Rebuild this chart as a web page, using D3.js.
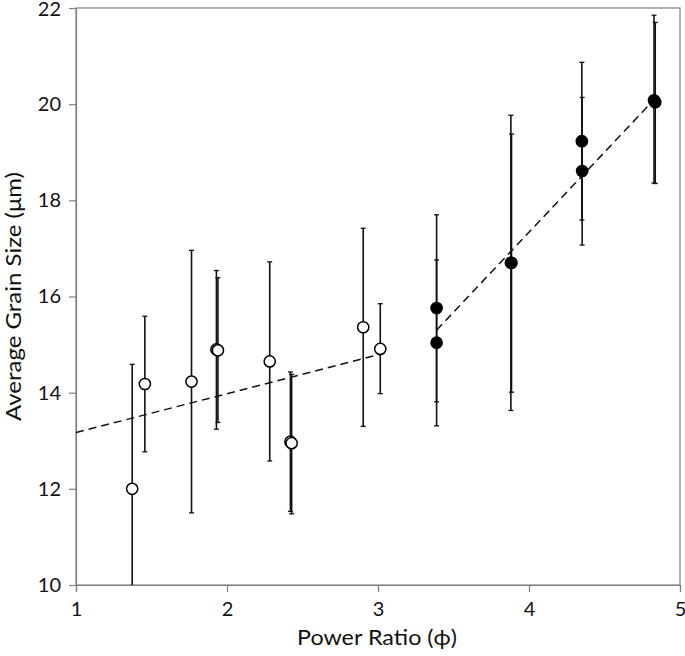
<!DOCTYPE html>
<html>
<head>
<meta charset="utf-8">
<script src="https://cdn.jsdelivr.net/npm/d3@7"></script>
<style>
  body { margin: 0; background: #fff; }
  svg { font-family: Lato, "Open Sans", sans-serif; }
</style>
</head>
<body>
<script>
// open circles (phi < 3.1)
let openPhi  = [1.372, 1.456, 1.765, 1.930, 1.940, 2.283, 2.420, 2.428, 2.902, 3.015];
let openSize = [12.00, 14.18, 14.23, 14.90, 14.88, 14.65, 12.98, 12.95, 15.36, 14.91];
let openLow  = [9.41, 12.77, 11.50, 13.24, 13.38, 12.58, 11.53, 11.48, 13.30, 13.98];
let openHigh = [14.59, 15.59, 16.96, 16.54, 16.39, 16.72, 14.43, 14.38, 17.42, 15.85];

// filled circles (phi > 3.3)
let fillPhi  = [3.388, 3.388, 3.880, 3.884, 4.350, 4.352, 4.828, 4.836];
let fillSize = [15.76, 15.04, 16.70, 16.70, 19.23, 18.61, 20.08, 20.04];
let fillLow  = [13.81, 13.31, 13.63, 14.01, 17.59, 17.07, 18.36, 18.35];
let fillHigh = [17.70, 16.76, 19.77, 19.38, 20.87, 20.14, 21.85, 21.70];

// linear fits, two segments
let fitOpen = [[1.0, 13.17], [3.015, 14.80]];
let fitFill = [[3.388, 15.30], [4.830, 20.10]];

let xTicks = [1, 2, 3, 4, 5];
let yTicks = [10, 12, 14, 16, 18, 20, 22];

let margin = {top: 8, right: 5, bottom: 71, left: 76},
    width = 685 - margin.left - margin.right,
    height = 656 - margin.top - margin.bottom;

let x = d3.scaleLinear().domain([1, 5]).range([0, width]);
let y = d3.scaleLinear().domain([10, 22]).range([height, 0]);

let svg = d3.select("body").append("svg")
    .attr("width", 685)
    .attr("height", 656);

svg.append("defs").append("clipPath")
    .attr("id", "clip")
    .append("rect")
    .attr("width", width)
    .attr("height", height);

let g = svg.append("g")
    .attr("transform", "translate(" + margin.left + "," + margin.top + ")");

// frame
g.append("rect")
    .attr("width", width)
    .attr("height", height)
    .attr("fill", "none")
    .attr("stroke", "#808080")
    .attr("stroke-width", 1.2);

// axes
let xAxis = g.append("g")
    .attr("transform", "translate(0," + height + ")")
    .call(d3.axisBottom(x).tickValues(xTicks).tickSize(7).tickPadding(10).tickFormat(d3.format("d")));

let yAxis = g.append("g")
    .call(d3.axisLeft(y).tickValues(yTicks).tickSize(7).tickPadding(8).tickFormat(d3.format("d")));

[xAxis, yAxis].forEach(function(a) {
    a.select(".domain").attr("stroke", "#808080").attr("stroke-width", 1.2);
    a.selectAll(".tick line").attr("stroke", "#808080").attr("stroke-width", 1.2);
    a.selectAll(".tick text").attr("fill", "#111").style("font-size", "20px").style("font-family", "Lato, sans-serif");
});

// top label sits right at the edge, nudge it so it stays in view
yAxis.selectAll(".tick text")
    .filter(function(d) { return d === 22; })
    .attr("y", 1.5);

// axis titles
svg.append("text")
    .attr("x", margin.left + x(3) - 1)
    .attr("y", 645)
    .attr("text-anchor", "middle")
    .attr("textLength", 160)
    .attr("lengthAdjust", "spacingAndGlyphs")
    .style("font-size", "21px")
    .attr("fill", "#111")
    .text("Power Ratio (\u03d5)");

svg.append("text")
    .attr("transform", "translate(21," + (margin.top + height / 2) + ") rotate(-90)")
    .attr("text-anchor", "middle")
    .attr("textLength", 249)
    .attr("lengthAdjust", "spacingAndGlyphs")
    .style("font-size", "21px")
    .attr("fill", "#111")
    .text("Average Grain Size (\u03bcm)");

let plot = g.append("g").attr("clip-path", "url(#clip)");

// dashed fit lines
let line = d3.line()
    .x(function(d) { return x(d[0]); })
    .y(function(d) { return y(d[1]); });

[fitOpen, fitFill].forEach(function(f) {
    plot.append("path")
        .datum(f)
        .attr("d", line)
        .attr("fill", "none")
        .attr("stroke", "#111")
        .attr("stroke-width", 1.5)
        .attr("stroke-dasharray", "8,5");
});

function drawSet(phi, size, low, high, filled) {
    let data = phi.map(function(p, i) {
        return {phi: p, size: size[i], low: low[i], high: high[i]};
    });

    let bars = plot.append("g").selectAll("g")
        .data(data)
        .enter().append("g");

    bars.append("line")
        .attr("x1", function(d) { return x(d.phi); })
        .attr("x2", function(d) { return x(d.phi); })
        .attr("y1", function(d) { return y(d.low); })
        .attr("y2", function(d) { return y(d.high); })
        .attr("stroke", "#111")
        .attr("stroke-width", 1.6);

    ["low", "high"].forEach(function(k) {
        bars.append("line")
            .attr("x1", function(d) { return x(d.phi) - 2.5; })
            .attr("x2", function(d) { return x(d.phi) + 2.5; })
            .attr("y1", function(d) { return y(d[k]); })
            .attr("y2", function(d) { return y(d[k]); })
            .attr("stroke", "#111")
            .attr("stroke-width", 1.3);
    });

    plot.append("g").selectAll("circle")
        .data(data)
        .enter().append("circle")
        .attr("cx", function(d) { return x(d.phi); })
        .attr("cy", function(d) { return y(d.size); })
        .attr("r", 5.6)
        .attr("fill", filled ? "#000" : "#fff")
        .attr("stroke", "#000")
        .attr("stroke-width", 1.5);
}

drawSet(openPhi, openSize, openLow, openHigh, false);
drawSet(fillPhi, fillSize, fillLow, fillHigh, true);
</script>
</body>
</html>
